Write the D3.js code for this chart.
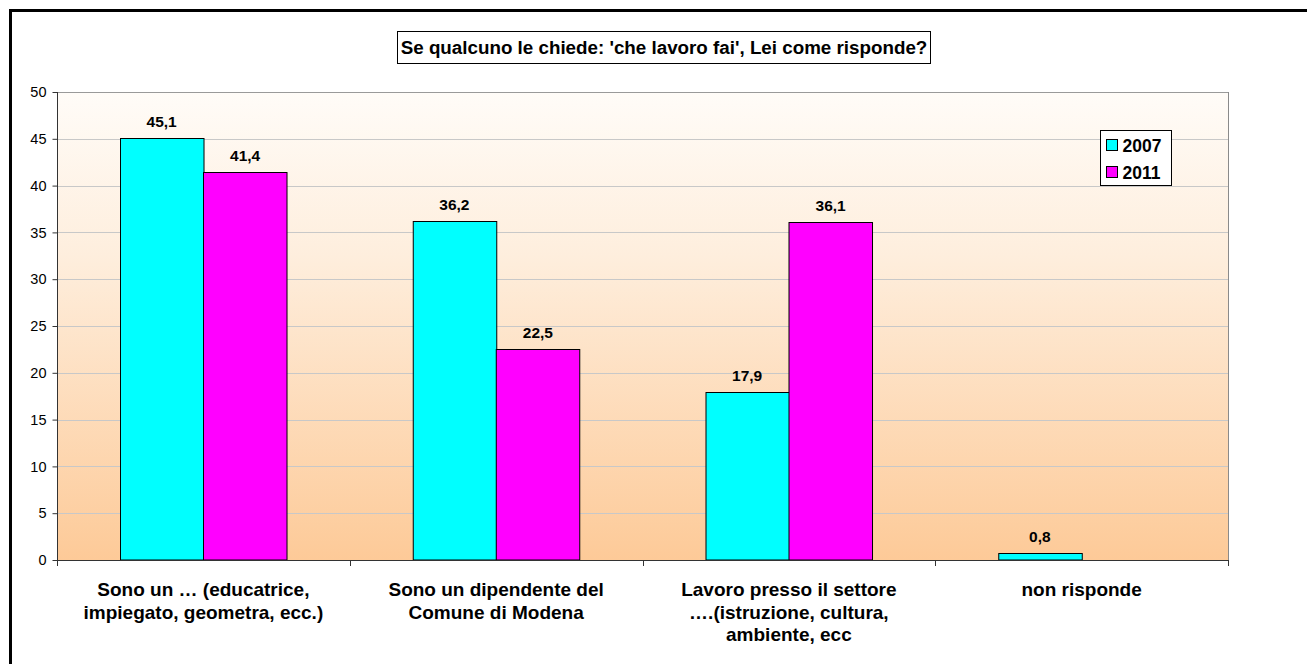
<!DOCTYPE html>
<html>
<head>
<meta charset="utf-8">
<script src="https://cdn.jsdelivr.net/npm/d3@7"></script>
<style>
  html, body { margin: 0; padding: 0; background: #fff; }
  svg { display: block; font-family: "Liberation Sans", Arial, sans-serif; }
</style>
</head>
<body>
<svg id="chart" width="1307" height="664"></svg>
<script>
// Survey answers: "Se qualcuno le chiede: 'che lavoro fai', Lei come risponde?"
const categories = [
  ["Sono un … (educatrice,", "impiegato, geometra, ecc.)"],
  ["Sono un dipendente del", "Comune di Modena"],
  ["Lavoro presso il settore", "….(istruzione, cultura,", "ambiente, ecc"],
  ["non risponde"]
];
const seriesNames = ["2007", "2011"];
const values2007 = [45.1, 36.2, 17.9, 0.8];
const values2011 = [41.4, 22.5, 36.1, null];
const yTicks = [0, 5, 10, 15, 20, 25, 30, 35, 40, 45, 50];
const titleText = "Se qualcuno le chiede: 'che lavoro fai', Lei come risponde?";

const colors = ["#00FFFF", "#FF00FF"];
const svg = d3.select("#chart");

// outer frame
svg.append("rect")
  .attr("x", 10.5).attr("y", 10.5)
  .attr("width", 1320).attr("height", 700)
  .attr("fill", "none").attr("stroke", "#000").attr("stroke-width", 3);

const plot = { left: 57, right: 1228, top: 92, bottom: 560 };

// background gradient
const defs = svg.append("defs");
const grad = defs.append("linearGradient").attr("id", "bg")
  .attr("x1", 0).attr("y1", 0).attr("x2", 0).attr("y2", 1);
grad.append("stop").attr("offset", "0%").attr("stop-color", "#FFFCF8");
grad.append("stop").attr("offset", "35%").attr("stop-color", "#FEEEDD");
grad.append("stop").attr("offset", "100%").attr("stop-color", "#FDCA98");

svg.append("rect")
  .attr("x", plot.left).attr("y", plot.top)
  .attr("width", plot.right - plot.left).attr("height", plot.bottom - plot.top)
  .attr("fill", "url(#bg)");

const x0 = d3.scaleBand()
  .domain(d3.range(categories.length))
  .range([plot.left, plot.right])
  .paddingInner(0).paddingOuter(0);

const x1 = d3.scaleBand()
  .domain(d3.range(seriesNames.length))
  .range([0, x0.bandwidth()])
  .paddingOuter(0.7528).paddingInner(0);

const y = d3.scaleLinear().domain([0, 50]).range([plot.bottom, plot.top]);

// gridlines
svg.append("g").selectAll("line")
  .data(yTicks.filter(t => t > 0))
  .join("line")
  .attr("x1", plot.left).attr("x2", plot.right)
  .attr("y1", d => Math.round(y(d)) + 0.5).attr("y2", d => Math.round(y(d)) + 0.5)
  .attr("stroke", d => d === 50 ? "#9a9a9a" : "#c8c8c8").attr("stroke-width", 1);

// right border of plot area
svg.append("line")
  .attr("x1", plot.right + 0.5).attr("x2", plot.right + 0.5)
  .attr("y1", plot.top).attr("y2", plot.bottom + 6)
  .attr("stroke", "#8a8a8a");

// bars
const series = [values2007, values2011];
const groups = svg.append("g").selectAll("g")
  .data(categories.map((c, i) => i))
  .join("g")
  .attr("transform", i => `translate(${x0(i)},0)`);

groups.selectAll("rect")
  .data(i => series.map((s, k) => ({ k, v: s[i] })).filter(d => d.v != null))
  .join("rect")
  .attr("x", d => Math.round(x1(d.k)) + 0.5)
  .attr("y", d => Math.round(y(d.v)) + 0.5)
  .attr("width", x1.bandwidth())
  .attr("height", d => y(0) - Math.round(y(d.v)) - 0.5)
  .attr("fill", d => colors[d.k])
  .attr("stroke", "#000").attr("stroke-width", 1);

groups.selectAll("text")
  .data(i => series.map((s, k) => ({ k, v: s[i] })).filter(d => d.v != null))
  .join("text")
  .attr("x", d => x1(d.k) + x1.bandwidth() / 2)
  .attr("y", d => y(d.v) - 11)
  .attr("text-anchor", "middle")
  .attr("font-size", 15.5).attr("font-weight", "bold")
  .text(d => d3.format(".1f")(d.v).replace(".", ","));

// y axis
const yAxis = d3.axisLeft(y).tickValues(yTicks).tickSize(5).tickPadding(6);
const gy = svg.append("g").attr("transform", `translate(${plot.left + 0.5},0)`).call(yAxis);
gy.select(".domain").attr("stroke", "#333").attr("d", `M0,${plot.top}V${plot.bottom}`);
gy.selectAll(".tick line").attr("stroke", "#333");
gy.selectAll(".tick text").attr("font-size", 14.5).attr("fill", "#000")
  .attr("font-family", "Liberation Sans, Arial, sans-serif");

// x axis
const xAxisLine = svg.append("g");
xAxisLine.append("line")
  .attr("x1", plot.left).attr("x2", plot.right + 1)
  .attr("y1", plot.bottom + 0.5).attr("y2", plot.bottom + 0.5)
  .attr("stroke", "#333");
xAxisLine.selectAll("line.tk")
  .data(d3.range(categories.length + 1))
  .join("line").attr("class", "tk")
  .attr("x1", i => Math.round(i < categories.length ? x0(i) : plot.right) + 0.5)
  .attr("x2", i => Math.round(i < categories.length ? x0(i) : plot.right) + 0.5)
  .attr("y1", plot.bottom).attr("y2", plot.bottom + 6)
  .attr("stroke", "#333");

const xl = svg.append("g").selectAll("text")
  .data(categories.map((c, i) => ({ c, i })))
  .join("text")
  .attr("x", d => x0(d.i) + x0.bandwidth() / 2)
  .attr("y", 596)
  .attr("text-anchor", "middle")
  .attr("font-size", 19).attr("font-weight", "bold");
xl.selectAll("tspan")
  .data(d => d.c.map((line, j) => ({ line, j, cx: x0(d.i) + x0.bandwidth() / 2 })))
  .join("tspan")
  .attr("x", d => d.cx)
  .attr("dy", d => d.j === 0 ? 0 : 22.5)
  .text(d => d.line);

// title
svg.append("rect")
  .attr("x", 397.5).attr("y", 31.5).attr("width", 533).attr("height", 32)
  .attr("fill", "#fff").attr("stroke", "#000");
svg.append("text")
  .attr("x", 664).attr("y", 53.5)
  .attr("text-anchor", "middle")
  .attr("font-size", 18.8).attr("font-weight", "bold")
  .text(titleText);

// legend
const lg = svg.append("g");
lg.append("rect")
  .attr("x", 1100.5).attr("y", 130.5).attr("width", 71).attr("height", 55)
  .attr("fill", "#fff").attr("stroke", "#000");
const items = lg.selectAll("g.item")
  .data(seriesNames.map((n, k) => ({ n, k })))
  .join("g").attr("class", "item")
  .attr("transform", d => `translate(1106,${139 + d.k * 27})`);
items.append("rect")
  .attr("x", 0.5).attr("y", 0.5).attr("width", 11).attr("height", 11)
  .attr("fill", d => colors[d.k]).attr("stroke", "#000");
items.append("text")
  .attr("x", 16.5).attr("y", 12.5)
  .attr("font-size", 17.5).attr("font-weight", "bold")
  .text(d => d.n);
</script>
</body>
</html>
